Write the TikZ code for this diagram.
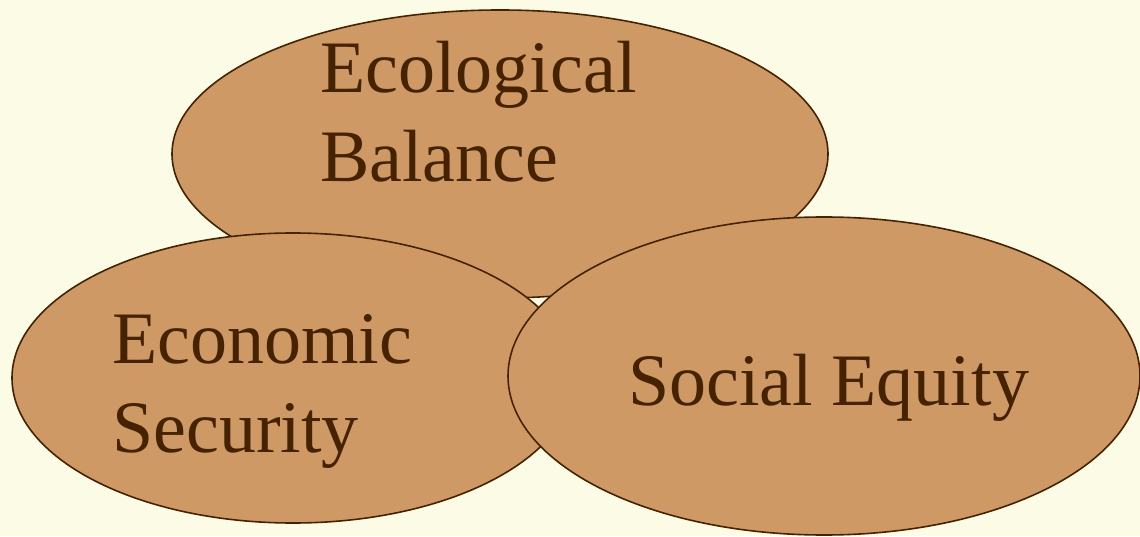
\documentclass[tikz,border=0pt]{standalone}
\usepackage{fontspec}
\setmainfont{Liberation Serif}
\usetikzlibrary{shapes.geometric}
\definecolor{paper}{HTML}{FBFBE6}
\definecolor{tan}{HTML}{CF9966}
\definecolor{bark}{HTML}{452300}
\tikzset{
  blob/.style={ellipse, draw=bark, fill=tan, line width=1.6pt, inner sep=0pt},
  lbl/.style={text=bark, anchor=base west, align=left, inner sep=0pt,
    font=\fontsize{74}{89}\selectfont}
}
\begin{document}
\begin{tikzpicture}[x=1pt,y=1pt]
\fill[paper] (0,0) rectangle (1140,536);
\useasboundingbox (0,0) rectangle (1140,536);
% the three circles of sustainability
\node[blob, minimum width=656pt, minimum height=288pt] (eco) at (500,382) {};
\node[lbl] (ecotext) at (320,354) {Ecological\\Balance};
\node[blob, minimum width=562pt, minimum height=290pt] (econ) at (293,158) {};
\node[lbl] (econtext) at (112,84) {Economic\\Security};
\node[blob, minimum width=632pt, minimum height=318pt] (soc) at (824,160) {};
\node[lbl] (soctext) at (628,131) {Social Equity};
\end{tikzpicture}
\end{document}
